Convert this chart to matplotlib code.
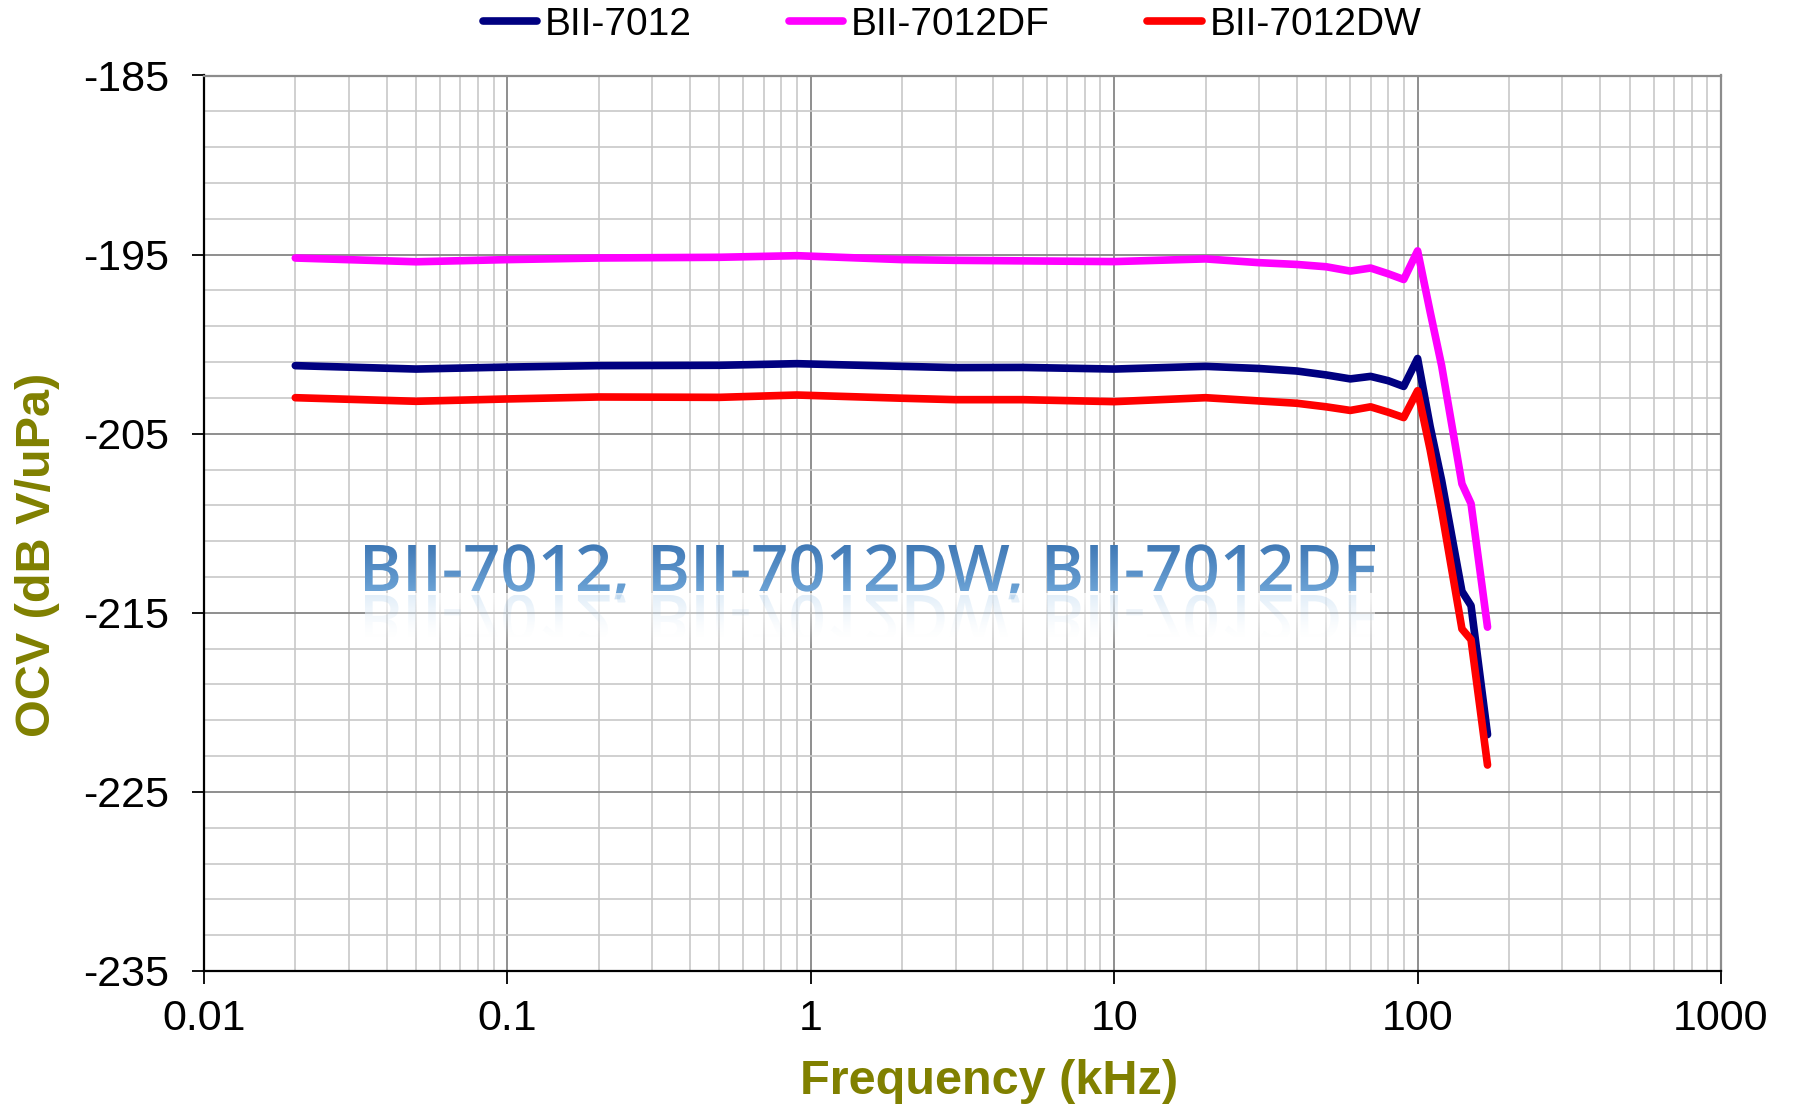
import numpy as np
import matplotlib
matplotlib.use("Agg")
import matplotlib.pyplot as plt
from matplotlib.textpath import TextPath
from matplotlib.font_manager import FontProperties
from matplotlib.patches import PathPatch
from matplotlib.transforms import Affine2D
from matplotlib.colors import LinearSegmentedColormap
from matplotlib.ticker import FixedLocator, LogLocator, NullFormatter

plt.rcParams['font.family'] = ['Liberation Sans', 'DejaVu Sans']
plt.rcParams['axes.unicode_minus'] = False

# frequency in kHz
freq = [0.02, 0.05, 0.1, 0.2, 0.5, 0.9, 2, 3, 5, 10, 20, 30, 40, 50, 60, 70,
        80, 90, 100, 110, 120, 140, 150, 170]

ocv_7012 = [-201.20, -201.39, -201.28, -201.20, -201.18, -201.09, -201.24, -201.31,
            -201.30, -201.39, -201.24, -201.36, -201.50, -201.72, -201.94, -201.80,
            -202.04, -202.36, -200.80, -204.6, -207.6, -213.8, -214.6, -221.8]
ocv_7012df = [-195.19, -195.40, -195.28, -195.19, -195.15, -195.06, -195.28, -195.32,
              -195.35, -195.39, -195.24, -195.45, -195.55, -195.68, -195.92, -195.75,
              -196.07, -196.39, -194.79, -198.2, -201.2, -207.8, -208.9, -215.8]
ocv_7012dw = [-202.99, -203.19, -203.06, -202.95, -202.97, -202.84, -203.02, -203.10,
              -203.10, -203.21, -202.99, -203.17, -203.30, -203.50, -203.70, -203.50,
              -203.80, -204.10, -202.60, -205.9, -209.3, -215.9, -216.5, -223.5]

names = ["BII-7012", "BII-7012DF", "BII-7012DW"]
colors = ["#000080", "#ff00ff", "#ff0000"]
yticks = [-185, -195, -205, -215, -225, -235]
xticks = [0.01, 0.1, 1, 10, 100, 1000]
xticklabels = ["0.01", "0.1", "1", "10", "100", "1000"]
watermark = "BII-7012, BII-7012DW, BII-7012DF"

W, H = 1795, 1110
fig = plt.figure(figsize=(W / 100, H / 100), dpi=100)
ax = fig.add_axes([204 / W, 1 - 971 / H, (1721 - 204) / W, (971 - 75.5) / H])

for y, c, n in zip([ocv_7012, ocv_7012df, ocv_7012dw], colors, names):
    ax.plot(freq, y, color=c, lw=5.5, label=n, solid_capstyle='round',
            solid_joinstyle='round', zorder=3)

ax.set_xscale('log')
ax.set_xlim(0.01, 1000)
ax.set_ylim(-235, -185)
ax.xaxis.set_major_locator(FixedLocator(xticks))
ax.set_xticklabels(xticklabels)
ax.xaxis.set_minor_locator(LogLocator(base=10, subs=np.arange(2, 10)))
ax.xaxis.set_minor_formatter(NullFormatter())
ax.set_yticks(yticks)
ax.yaxis.set_minor_locator(FixedLocator(np.arange(-235, -184, 2)))

ax.grid(which='major', color='#868686', lw=1.3)
ax.grid(which='minor', color='#c8c8c8', lw=1.2)
ax.set_axisbelow(True)

ax.tick_params(which='major', direction='out', length=9, width=1.3, labelsize=31, colors='black')
ax.tick_params(axis='x', which='major', pad=11)
ax.tick_params(axis='y', which='major', pad=16)
ax.tick_params(which='minor', length=0)

for s in ['left', 'bottom']:
    ax.spines[s].set_color('black')
    ax.spines[s].set_linewidth(1.6)
for s in ['top', 'right']:
    ax.spines[s].set_color('#8c8c8c')
    ax.spines[s].set_linewidth(1.6)

fig.text(989 / W, 1 - 1081 / H, "Frequency (kHz)", fontsize=35, fontweight='bold',
         color='#808000', ha='center', va='center')
fig.text(38 / W, 0.5, "OCV (dB V/uPa)", fontsize=35, fontweight='bold',
         color='#808000', ha='center', va='center', rotation=90)

ax.legend(loc='center', bbox_to_anchor=(952 / W, 1 - 25 / H), bbox_transform=fig.transFigure,
          ncol=3, frameon=False, fontsize=28, handlelength=1.4, handletextpad=0.2,
          columnspacing=2.5, borderpad=0)

# watermark text with gradient and faint reflection
ov = fig.add_axes([0, 0, 1, 1], zorder=5)
ov.set_xlim(0, 1)
ov.set_ylim(0, 1)
ov.axis('off')
ov.patch.set_alpha(0)

fp = FontProperties(family='Open Sans', weight='semibold')
tp = TextPath((0, 0), watermark, size=100, prop=fp)
cap = TextPath((0, 0), "B", size=100, prop=fp).get_extents().height
ext = tp.get_extents()
x0, x1 = 365, 1375
base, top = 591, 545
sx = (x1 - x0) / ext.width
sy = (base - top) / cap
tr = Affine2D().translate(-ext.x0, 0).scale(sx / W, sy / H).translate(x0 / W, 1 - base / H)
path = tr.transform_path(tp)
patch = PathPatch(path, facecolor='none', edgecolor='none', transform=ov.transData)
ov.add_patch(patch)
cmap = LinearSegmentedColormap.from_list('wm', ['#80b6e4', '#3b74b2'])
grad = np.linspace(0, 1, 256).reshape(-1, 1)
ytop = 1 - top / H + 0.005
ybot = 1 - base / H - 0.02
im = ov.imshow(grad, extent=[x0 / W, x1 / W, ybot, ytop], origin='lower',
               aspect='auto', cmap=cmap, interpolation='bilinear')
im.set_clip_path(patch)

# white fade band + mirrored reflection
fade = np.zeros((256, 1, 4))
fade[..., :3] = 1.0
fade[:, 0, 3] = np.linspace(0.0, 0.75, 256)
ov.imshow(fade, extent=[x0 / W, x1 / W, 1 - 650 / H, 1 - 593 / H], origin='lower',
          aspect='auto', interpolation='bilinear')
mtr = Affine2D().translate(-ext.x0, 0).scale(sx / W, -sy / H).translate(x0 / W, 1 - (base + 4) / H)
mpath = mtr.transform_path(tp)
mpatch = PathPatch(mpath, facecolor='none', edgecolor='none', transform=ov.transData)
ov.add_patch(mpatch)
refl = np.zeros((256, 1, 4))
refl[..., 0] = 0.45
refl[..., 1] = 0.68
refl[..., 2] = 0.88
refl[:, 0, 3] = np.linspace(0.0, 0.35, 256) ** 1.5
im2 = ov.imshow(refl, extent=[x0 / W, x1 / W, 1 - 640 / H, 1 - 595 / H], origin='lower',
                aspect='auto', interpolation='bilinear')
im2.set_clip_path(mpatch)

fig.savefig("out.png", dpi=100)
